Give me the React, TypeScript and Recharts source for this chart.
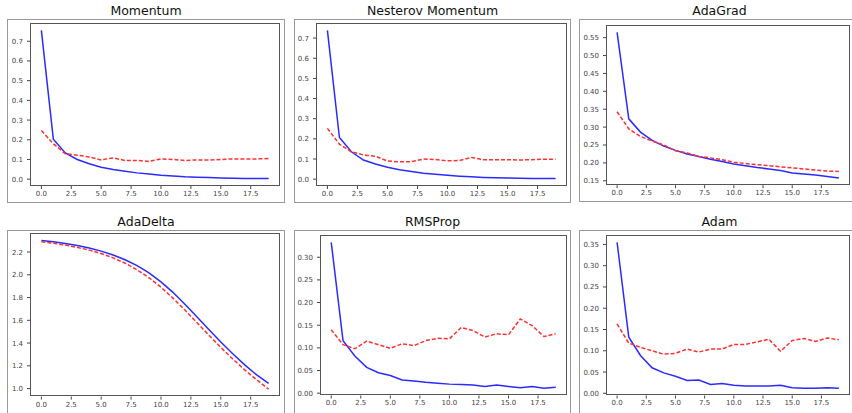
import React from "react"
import { LineChart, Line, XAxis, YAxis } from "recharts"

// epochs on the x axis
const epochs = [0, 1, 2, 3, 4, 5, 6, 7, 8, 9, 10, 11, 12, 13, 14, 15, 16, 17, 18, 19]
const epochTicks = [0, 2.5, 5, 7.5, 10, 12.5, 15, 17.5]

// loss curves per optimizer: train (solid blue) and validation (dashed red)
const momentumTrain = [0.755, 0.203, 0.133, 0.1, 0.078, 0.061, 0.049, 0.04, 0.032, 0.026, 0.02, 0.016, 0.012, 0.01, 0.008, 0.006, 0.005, 0.004, 0.004, 0.003]
const momentumVal = [0.247, 0.18, 0.129, 0.122, 0.113, 0.098, 0.108, 0.095, 0.095, 0.09, 0.103, 0.1, 0.095, 0.098, 0.097, 0.1, 0.103, 0.103, 0.103, 0.105]

const nesterovTrain = [0.738, 0.207, 0.136, 0.095, 0.075, 0.059, 0.047, 0.038, 0.03, 0.024, 0.019, 0.015, 0.012, 0.009, 0.007, 0.006, 0.005, 0.004, 0.003, 0.003]
const nesterovVal = [0.252, 0.174, 0.136, 0.12, 0.114, 0.09, 0.086, 0.087, 0.1, 0.098, 0.091, 0.093, 0.108, 0.097, 0.097, 0.097, 0.095, 0.097, 0.099, 0.099]

const adagradTrain = [0.565, 0.323, 0.286, 0.263, 0.247, 0.235, 0.225, 0.218, 0.21, 0.204, 0.197, 0.192, 0.187, 0.183, 0.179, 0.172, 0.169, 0.166, 0.162, 0.158]
const adagradVal = [0.343, 0.295, 0.274, 0.261, 0.25, 0.234, 0.228, 0.218, 0.214, 0.209, 0.202, 0.198, 0.195, 0.192, 0.189, 0.186, 0.183, 0.18, 0.177, 0.176]

const adadeltaTrain = [2.302, 2.29, 2.275, 2.257, 2.235, 2.208, 2.174, 2.132, 2.08, 2.016, 1.938, 1.846, 1.742, 1.632, 1.52, 1.41, 1.306, 1.208, 1.12, 1.045]
const adadeltaVal = [2.29, 2.277, 2.261, 2.241, 2.217, 2.187, 2.149, 2.102, 2.044, 1.974, 1.891, 1.795, 1.69, 1.58, 1.47, 1.362, 1.26, 1.165, 1.077, 0.995]

const rmspropTrain = [0.333, 0.116, 0.082, 0.057, 0.045, 0.039, 0.029, 0.027, 0.024, 0.022, 0.02, 0.019, 0.018, 0.015, 0.018, 0.015, 0.012, 0.015, 0.011, 0.013]
const rmspropVal = [0.14, 0.107, 0.098, 0.115, 0.107, 0.099, 0.109, 0.105, 0.116, 0.121, 0.12, 0.145, 0.138, 0.124, 0.131, 0.129, 0.164, 0.149, 0.125, 0.131]

const adamTrain = [0.355, 0.132, 0.089, 0.06, 0.048, 0.04, 0.03, 0.031, 0.021, 0.023, 0.019, 0.017, 0.017, 0.017, 0.019, 0.013, 0.012, 0.012, 0.013, 0.012]
const adamVal = [0.163, 0.118, 0.108, 0.1, 0.092, 0.094, 0.104, 0.097, 0.104, 0.104, 0.115, 0.115, 0.121, 0.127, 0.099, 0.124, 0.129, 0.122, 0.13, 0.126]

// y tick labels
const ticksMomentum = [0, 0.1, 0.2, 0.3, 0.4, 0.5, 0.6, 0.7]
const ticksAdagrad = [0.15, 0.2, 0.25, 0.3, 0.35, 0.4, 0.45, 0.5, 0.55]
const ticksAdadelta = [1.0, 1.2, 1.4, 1.6, 1.8, 2.0, 2.2]
const ticksRmsprop = [0, 0.05, 0.1, 0.15, 0.2, 0.25, 0.3]
const ticksAdam = [0, 0.05, 0.1, 0.15, 0.2, 0.25, 0.3, 0.35]

const FONT = "'DejaVu Sans', sans-serif"
const Y_AXIS_W = 30
const X_AXIS_H = 20

type Box = { left: number; top: number; right: number; bottom: number }

const panels = [
  { title: "Momentum", train: momentumTrain, val: momentumVal, ticks: ticksMomentum, digits: 1, frame: { left: 7, top: 19, right: 285, bottom: 203 }, plot: { left: 30, top: 23, right: 280, bottom: 186 } },
  { title: "Nesterov Momentum", train: nesterovTrain, val: nesterovVal, ticks: ticksMomentum, digits: 1, frame: { left: 294, top: 19, right: 571, bottom: 203 }, plot: { left: 316, top: 23, right: 567, bottom: 186 } },
  { title: "AdaGrad", train: adagradTrain, val: adagradVal, ticks: ticksAdagrad, digits: 2, frame: { left: 579, top: 19, right: 860, bottom: 202 }, plot: { left: 606, top: 24.5, right: 850, bottom: 184.7 } },
  { title: "AdaDelta", train: adadeltaTrain, val: adadeltaVal, ticks: ticksAdadelta, digits: 1, frame: { left: 7, top: 230, right: 285, bottom: 430 }, plot: { left: 30, top: 232.7, right: 280, bottom: 396.3 } },
  { title: "RMSProp", train: rmspropTrain, val: rmspropVal, ticks: ticksRmsprop, digits: 2, frame: { left: 294, top: 230, right: 571, bottom: 430 }, plot: { left: 320, top: 234.5, right: 567, bottom: 395 } },
  { title: "Adam", train: adamTrain, val: adamVal, ticks: ticksAdam, digits: 2, frame: { left: 579, top: 230, right: 860, bottom: 430 }, plot: { left: 606, top: 234.5, right: 850, bottom: 395 } },
]

// matplotlib-style autoscale: data range plus 5% on each side
function paddedDomain(values: number[]): [number, number] {
  const lo = Math.min(...values)
  const hi = Math.max(...values)
  const pad = (hi - lo) * 0.05
  return [lo - pad, hi + pad]
}

function LossPanel({ title, train, val, ticks, digits, frame, plot }: { title: string; train: number[]; val: number[]; ticks: number[]; digits: number; frame: Box; plot: Box }) {
  const data = epochs.map((e, i) => ({ epoch: e, train: train[i], val: val[i] }))
  const plotW = plot.right - plot.left
  const plotH = plot.bottom - plot.top
  const tick = { fontSize: 7, fill: "#444", fontFamily: FONT }

  return (
    <>
      <div style={{ position: "absolute", left: frame.left, top: frame.top, width: frame.right - frame.left, height: frame.bottom - frame.top, border: "1px solid #999", boxSizing: "border-box" }} />
      <div style={{ position: "absolute", left: frame.left, top: frame.top - 14, width: frame.right - frame.left, textAlign: "center", fontFamily: FONT, fontSize: 12.5, lineHeight: 1, color: "#111" }}>
        {title}
      </div>
      <div style={{ position: "absolute", left: plot.left - Y_AXIS_W, top: plot.top }}>
        <LineChart width={plotW + Y_AXIS_W} height={plotH + X_AXIS_H} data={data} margin={{ top: 0, right: 0, bottom: 0, left: 0 }}>
          <XAxis
            dataKey="epoch"
            type="number"
            domain={[-0.95, 19.95]}
            allowDataOverflow
            ticks={epochTicks}
            tickFormatter={(v) => Number(v).toFixed(1)}
            height={X_AXIS_H}
            axisLine={false}
            tickSize={3}
            tickMargin={2}
            tickLine={{ stroke: "#444" }}
            tick={tick}
            interval={0}
          />
          <YAxis
            type="number"
            domain={paddedDomain([...train, ...val])}
            allowDataOverflow
            ticks={ticks}
            tickFormatter={(v) => Number(v).toFixed(digits)}
            width={Y_AXIS_W}
            axisLine={false}
            tickSize={3}
            tickMargin={4}
            tickLine={{ stroke: "#444" }}
            tick={tick}
            interval={0}
          />
          <Line dataKey="train" type="linear" stroke="#2b2bff" strokeWidth={1.5} dot={false} isAnimationActive={false} />
          <Line dataKey="val" type="linear" stroke="#ff3030" strokeWidth={1.5} strokeDasharray="4 2" dot={false} isAnimationActive={false} />
        </LineChart>
      </div>
      <div style={{ position: "absolute", left: plot.left, top: plot.top, width: plotW, height: plotH, border: "1px solid #555", boxSizing: "border-box", pointerEvents: "none" }} />
    </>
  )
}

export default function App() {
  return (
    <div style={{ position: "absolute", left: 0, top: 0, width: 852, height: 413, overflow: "hidden", background: "#fff" }}>
      {panels.map((p) => (
        <LossPanel key={p.title} {...p} />
      ))}
    </div>
  )
}
